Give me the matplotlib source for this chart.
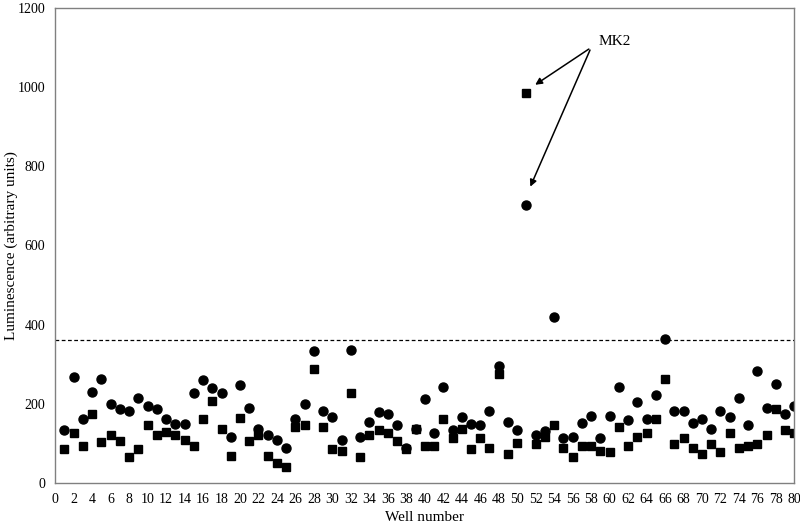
import matplotlib.pyplot as plt
import numpy as np

wells = np.arange(1, 81)

# circle series (luminescence per well)
circles = [133, 267, 161, 230, 263, 198, 186, 181, 214, 194,
           186, 161, 149, 149, 226, 259, 239, 226, 117, 246,
           190, 137, 121, 109, 89, 162, 198, 332, 182, 166,
           109, 336, 117, 154, 178, 174, 146, 89, 137, 211,
           126, 243, 133, 166, 149, 146, 182, 295, 154, 133,
           703, 121, 130, 420, 113, 117, 150, 170, 113, 170,
           243, 158, 203, 162, 223, 364, 182, 182, 150, 162,
           137, 182, 166, 214, 146, 283, 190, 251, 174, 194]

# square series
squares = [85, 125, 94, 174, 102, 121, 105, 65, 85, 145,
           121, 129, 121, 109, 93, 161, 206, 137, 69, 165,
           105, 121, 69, 49, 41, 142, 146, 287, 142, 85,
           81, 226, 65, 121, 133, 125, 105, 85, 135, 93,
           93, 162, 113, 137, 85, 113, 89, 275, 73, 101,
           985, 97, 117, 146, 89, 65, 93, 93, 81, 77,
           142, 93, 117, 126, 162, 263, 97, 113, 89, 73,
           97, 77, 126, 89, 93, 97, 121, 186, 133, 126]

threshold = 362

plt.rcParams['font.family'] = ['Liberation Serif', 'DejaVu Serif']

fig = plt.figure(figsize=(8, 5.3), dpi=100)
ax = fig.add_axes([0.069, 0.089, 0.924, 0.896])

ax.plot(wells, circles, linestyle='none', marker='o', markersize=6.5,
        color='black')
ax.plot(wells, squares, linestyle='none', marker='s', markersize=6,
        color='black')
ax.axhline(threshold, color='black', linestyle=(0, (3, 2)), linewidth=0.9)

# MK2 annotation with two arrows
ax.text(58.8, 1116, 'MK2', fontsize=11, ha='left', va='center')
arrow = dict(arrowstyle='-|>', color='black', lw=1.1, mutation_scale=10)
ax.annotate('', xy=(51.7, 1002), xytext=(58.0, 1100), arrowprops=arrow)
ax.annotate('', xy=(51.3, 742), xytext=(58.0, 1100), arrowprops=arrow)

ax.set_xlim(0, 80)
ax.set_ylim(0, 1200)
ax.set_xticks(np.arange(0, 81, 2))
ax.set_yticks(np.arange(0, 1201, 200))
ax.tick_params(axis='both', length=0, labelsize=10, pad=7)
for spine in ax.spines.values():
    spine.set_color('#808080')
    spine.set_linewidth(1)

ax.set_xlabel('Well number', fontsize=11, labelpad=4)
ax.set_ylabel('Luminescence (arbitrary units)', fontsize=11)
ax.yaxis.set_label_coords(-0.051, 0.5)

fig.savefig('out.png', dpi=100)
